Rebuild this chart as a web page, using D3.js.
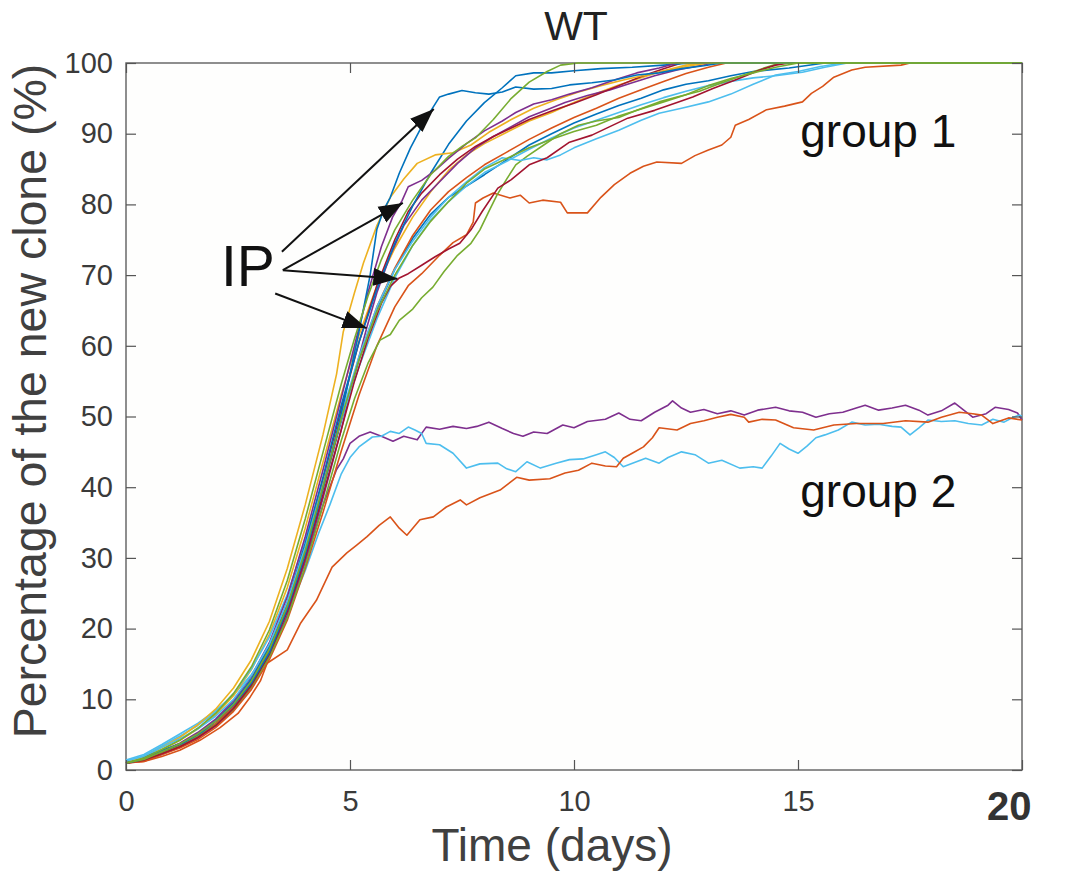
<!DOCTYPE html>
<html>
<head>
<meta charset="utf-8">
<script src="https://d3js.org/d3.v7.min.js"></script>
<style>
    body { margin: 0; background: #fff; }
    .axis text { font-family: "Liberation Sans", Arial, sans-serif; font-size: 29px; fill: #3a3a3a; }
    .axis path { display: none; }
    .axis line { stroke: #555; stroke-width: 1.2px; }
    .lbl { font-family: "Liberation Sans", Arial, sans-serif; }
</style>
</head>
<body>
<script>
// --- data: [day, percent] ---
let blueA = [[0,1],[0.3,1.4],[0.6,2.3],[1,3.2],[1.3,3.9],[1.7,5.4],[2,6.9],[2.4,9.2],[2.8,12.3],[3.2,16.6],[3.6,22.8],[4,30.5],[4.3,37.5],[4.6,45],[4.9,53],[5.2,62],[5.45,70],[5.6,76.5],[5.75,79.2],[5.9,81],[6.1,84.4],[6.35,88],[6.6,91],[6.8,93.2],[7,95.2],[7.2,95.6],[7.5,96.1],[7.8,95.8],[8.1,95.6],[8.4,95.9],[8.7,96.6],[9.1,96.3],[9.5,96.4],[9.9,96.9],[10.4,97.2],[10.9,97.6],[11.4,98.3],[11.9,98.6],[12.4,99.2],[12.9,99.6],[13.3,100],[20,100]];
let orangeA = [[0,1],[0.4,1.2],[0.8,2.2],[1.2,3.1],[1.6,4.3],[2,6],[2.4,8.3],[2.8,11.4],[3.2,15.6],[3.6,21.2],[4,28.5],[4.4,36.5],[4.8,45],[5.2,53],[5.6,60],[6,65.5],[6.3,68.5],[6.6,70.2],[7,72.8],[7.3,74.6],[7.6,75.7],[7.75,77.5],[7.8,80.2],[7.97,80.9],[8.2,81.6],[8.57,80.9],[8.8,81.3],[9,80.2],[9.3,80.6],[9.7,80.3],[9.85,78.8],[10.3,78.8],[10.6,81],[10.9,82.8],[11.25,84.4],[11.55,85.4],[11.85,86],[12.4,85.8],[12.7,86.9],[13,87.7],[13.3,88.4],[13.5,89.5],[13.6,91.2],[13.9,92],[14.3,93.4],[14.7,93.9],[15.1,94.5],[15.3,95.7],[15.55,96.7],[15.8,98],[16.2,99],[16.5,99.4],[17.3,99.7],[17.5,100],[20,100]];
let greenA = [[0,1],[0.4,1.5],[0.8,2.4],[1.2,3.4],[1.6,4.8],[2,6.4],[2.4,8.6],[2.8,11.8],[3.2,16],[3.6,21.5],[4,28.8],[4.4,37.5],[4.8,46.5],[5.1,52.5],[5.4,57.5],[5.67,60.8],[5.9,61.6],[6.1,63.6],[6.4,65.2],[6.6,66.8],[6.85,68.3],[7.1,70.5],[7.4,72.8],[7.7,74.5],[7.9,76.4],[8.1,79],[8.28,81.3],[8.5,83.6],[8.7,85.6],[8.95,86.8],[9.3,88.3],[9.7,90],[10.1,91.2],[10.5,91.8],[11,92.3],[11.4,93.3],[11.9,94.5],[12.3,95.2],[12.8,96],[13.3,97.2],[13.8,98.3],[14.2,99.2],[14.6,100],[20,100]];
let darkRedA = [[0,1],[0.4,1.4],[0.8,2.3],[1.2,3.3],[1.6,4.6],[2,6.3],[2.4,8.7],[2.8,12],[3.2,16.4],[3.6,22.4],[4,30],[4.4,39],[4.8,48],[5.1,55],[5.4,61],[5.7,66],[5.9,68.4],[6.1,69.6],[6.3,70.2],[6.6,71.4],[6.9,72.6],[7.2,73.7],[7.45,74.5],[7.7,76.4],[7.95,79],[8.3,82.3],[8.6,83.5],[9,85.6],[9.4,86.6],[9.9,88.8],[10.4,89.8],[10.8,91],[11.2,92.2],[11.8,93.3],[12.3,94.4],[12.65,95.2],[13.1,96.4],[13.6,97.6],[14.15,99],[14.5,99.7],[14.8,100],[20,100]];
let lightBlueA = [[0,1.3],[0.4,1.9],[0.8,3.2],[1.2,4.4],[1.6,5.8],[2,7.6],[2.4,10],[2.8,13.4],[3.2,17.8],[3.6,23.8],[4,31.5],[4.4,40.5],[4.8,50],[5.2,58.5],[5.6,65.5],[6,70.8],[6.4,74.8],[6.8,78.2],[7.2,81],[7.6,83.2],[8,85.2],[8.4,86.6],[8.8,86.2],[9.1,86.6],[9.4,86.3],[9.7,87],[10,88],[10.5,89.3],[11,90.5],[11.5,91.9],[11.9,92.9],[12.4,93.6],[13,94.5],[13.5,95.6],[14,97],[14.5,98.3],[15,98.8],[15.5,99.5],[16,100],[20,100]];
let purpleA = [[0,1],[0.4,1.6],[0.8,2.7],[1.2,3.8],[1.6,5.3],[2,7.2],[2.4,9.8],[2.8,13.3],[3.2,18],[3.6,24.5],[4,33],[4.4,42.5],[4.8,52.5],[5.1,60],[5.4,67.5],[5.7,74],[5.95,78.2],[6.16,80.5],[6.3,82.5],[6.6,83.4],[6.9,84.8],[7.2,86.5],[7.6,88.6],[8,90.4],[8.4,91.8],[8.7,93],[9.1,94.2],[9.5,94.8],[9.9,95.6],[10.4,96.5],[10.9,97.6],[11.4,98.6],[11.9,99.3],[12.3,100],[20,100]];
let yellowA = [[0,1],[0.4,1.8],[0.8,3.2],[1.2,4.6],[1.6,6.4],[2,8.6],[2.4,11.6],[2.8,15.6],[3.2,21],[3.6,28.5],[4,37.5],[4.4,47.5],[4.7,56],[4.85,62],[5.1,67.5],[5.3,71.7],[5.6,77],[5.9,81],[6.2,83.6],[6.5,85.8],[6.9,87],[7.3,87.3],[7.7,88.4],[8.1,90.2],[8.6,92],[9.1,93.6],[9.6,94.8],[10.1,95.9],[10.6,96.8],[11.1,97.6],[11.6,98.3],[12.1,99],[12.6,99.6],[13,100],[20,100]];
let greenB = [[0,1],[0.4,1.7],[0.8,2.9],[1.2,4.2],[1.6,5.9],[2,8],[2.4,10.8],[2.8,14.6],[3.2,19.8],[3.6,26.8],[4,35.5],[4.4,45],[4.8,54.5],[5.1,61],[5.4,67],[5.7,72.2],[6,76.4],[6.4,80.6],[6.8,84.2],[7.2,86.8],[7.5,88.2],[7.8,89.4],[8.2,92],[8.6,95],[9,97.3],[9.4,98.8],[9.7,99.7],[10.1,100],[20,100]];
let blueB = [[0,1],[0.4,1.5],[0.8,2.6],[1.2,3.7],[1.6,5.1],[2,7],[2.4,9.5],[2.8,12.9],[3.2,17.5],[3.6,23.8],[4,32],[4.4,41.5],[4.8,51.5],[5.2,60.5],[5.6,68],[6,74.5],[6.4,79.8],[6.8,84.4],[7.2,88.5],[7.6,91.8],[8,94.4],[8.4,96.5],[8.7,98.2],[9.1,98.6],[9.5,98.6],[10,98.9],[10.6,99.2],[11.3,99.4],[12,99.7],[12.6,100],[20,100]];
let orangeB = [[0,1],[0.4,1.4],[0.8,2.4],[1.2,3.5],[1.6,4.8],[2,6.6],[2.4,9],[2.8,12.3],[3.2,16.8],[3.6,22.9],[4,30.8],[4.4,40],[4.8,49.5],[5.2,58.2],[5.6,65.5],[6,71],[6.4,75.6],[6.8,79.2],[7.2,81.8],[7.6,83.8],[8,85.6],[8.5,87.4],[9,89.2],[9.5,90.8],[10,92.3],[10.5,93.6],[11,95],[11.5,96.2],[12,97.4],[12.5,98.5],[13,99.4],[13.4,100],[20,100]];
let purpleB = [[0,1],[0.4,1.3],[0.8,2.2],[1.2,3.2],[1.6,4.5],[2,6.2],[2.4,8.5],[2.8,11.7],[3.2,16],[3.6,21.8],[4,29.5],[4.4,38.5],[4.8,48],[5.1,56],[5.38,62.7],[5.6,67.5],[5.9,72.8],[6.2,77],[6.6,80.6],[7,83.2],[7.4,85.8],[7.8,88],[8.2,89.6],[8.6,91],[9,92.4],[9.4,93.4],[9.8,94.4],[10.3,95.4],[10.8,96.2],[11.3,97.2],[11.8,98.2],[12.3,99],[12.8,99.6],[13.1,100],[20,100]];
let darkRedB = [[0,1],[0.4,1.5],[0.8,2.5],[1.2,3.6],[1.6,5],[2,6.9],[2.4,9.4],[2.8,12.8],[3.2,17.4],[3.6,23.6],[4,31.6],[4.4,41],[4.8,51],[5.2,60.5],[5.6,68.5],[6,75],[6.3,79],[6.6,81.6],[7,84.2],[7.4,86.4],[7.8,88.2],[8.2,89.6],[8.6,90.8],[9,92],[9.5,93.2],[10,94.3],[10.5,95.5],[11,96.8],[11.5,98.1],[12,99.2],[12.4,100],[20,100]];
let lightBlueB = [[0,1.2],[0.4,2],[0.8,3.4],[1.2,4.8],[1.6,6.3],[2,8.2],[2.4,10.8],[2.8,14.3],[3.2,18.8],[3.6,24.8],[4,32.5],[4.4,41],[4.8,49.5],[5.2,57],[5.6,63.8],[6,69.6],[6.4,74.2],[6.8,77.8],[7.2,80.4],[7.6,82.6],[8,84.5],[8.5,86.1],[9,87.8],[9.5,89.4],[10,90.8],[10.5,91.9],[11,93],[11.5,94.1],[12,95.1],[12.5,96],[13,96.8],[13.5,97.4],[14,97.9],[14.5,98.2],[15.1,98.7],[15.6,99.4],[16.1,100],[20,100]];
let blueC = [[0,1],[0.4,1.4],[0.8,2.4],[1.2,3.4],[1.6,4.7],[2,6.5],[2.4,8.9],[2.8,12.2],[3.2,16.7],[3.6,22.8],[4,30.6],[4.4,39.8],[4.8,49.2],[5.2,58],[5.6,65.2],[6,70.8],[6.4,75.2],[6.8,78.6],[7.2,81],[7.6,82.6],[8,84.2],[8.5,86.3],[9,88.4],[9.5,90],[10,91.5],[10.5,92.8],[11,94],[11.5,95],[12,96.2],[12.5,97],[13,97.5],[13.5,98.2],[14,98.8],[14.8,99.3],[15.6,100],[20,100]];
let yellowB = [[0,1],[0.4,1.6],[0.8,2.9],[1.2,4.2],[1.6,5.8],[2,7.8],[2.4,10.5],[2.8,14.2],[3.2,19.2],[3.6,25.8],[4,34.2],[4.4,43.6],[4.8,53],[5.2,61.5],[5.6,68.5],[6,73.8],[6.4,78.2],[6.8,81.8],[7.2,84.8],[7.6,87],[8,88.6],[8.5,90.2],[9,91.8],[9.5,93],[10,94.4],[10.5,95.7],[11,96.9],[11.5,97.9],[12,98.9],[12.5,99.7],[12.9,100],[20,100]];
let greenC = [[0,1],[0.4,1.5],[0.8,2.6],[1.2,3.7],[1.6,5.1],[2,6.9],[2.4,9.3],[2.8,12.6],[3.2,17.1],[3.6,23.2],[4,31],[4.4,40.2],[4.8,49.6],[5.2,58],[5.6,64.8],[6,70],[6.4,74.2],[6.8,77.6],[7.2,80.4],[7.6,83],[8,85],[8.5,86.5],[9,88],[9.5,89.2],[10,90.3],[10.5,91.2],[11,92.5],[11.5,93.5],[12,94.5],[12.5,95.5],[13,96.8],[13.5,97.8],[14,98.6],[14.5,99.4],[15,100],[20,100]];

// group 2
let purpleG2 = [[0,1],[0.4,1.3],[0.8,2.3],[1.2,3.3],[1.6,4.6],[2,6.3],[2.4,8.6],[2.8,11.8],[3.2,16.2],[3.6,22],[4,29.5],[4.4,37.5],[4.7,42.5],[4.85,44],[5,46.2],[5.2,47.2],[5.45,47.8],[5.7,47.2],[5.96,46.5],[6.2,47.2],[6.5,46.7],[6.7,48.5],[7,48.2],[7.3,48.6],[7.6,48.3],[7.83,48.6],[8.1,49.2],[8.4,48.3],[8.65,47.6],[8.86,47.2],[9.1,47.8],[9.4,47.6],[9.75,48.8],[10,48.4],[10.3,49.3],[10.7,49.6],[11,50.5],[11.25,49.6],[11.5,49.4],[11.8,50.6],[12.1,51.6],[12.2,52.2],[12.4,51.2],[12.6,50.6],[12.9,51],[13.2,50.4],[13.5,50.8],[13.8,50.2],[14.1,50.9],[14.5,51.3],[14.8,50.8],[15.1,50.6],[15.4,49.9],[15.7,50.4],[16,50.6],[16.3,51.2],[16.5,51.6],[16.8,50.9],[17.1,51.2],[17.4,51.6],[17.7,50.9],[17.9,50.2],[18.2,50.8],[18.5,51.9],[18.7,50.9],[18.9,49.9],[19.2,50.4],[19.4,51.3],[19.7,51],[19.9,50.5],[20,49.5]];
let lightBlueG2 = [[0,1.4],[0.4,2.2],[0.8,3.6],[1.2,5.1],[1.6,6.6],[2,8.4],[2.4,10.6],[2.8,13.5],[3.2,17.2],[3.6,22],[4,28.2],[4.3,33.5],[4.55,37.5],[4.8,41.8],[5,44.2],[5.2,45.7],[5.5,47.1],[5.7,47.2],[5.9,47.9],[6.1,47.6],[6.3,48.5],[6.45,48.1],[6.6,47.6],[6.7,46.2],[7,46],[7.3,44.8],[7.6,42.7],[7.9,43.3],[8.3,43.4],[8.5,42.6],[8.7,42.2],[8.95,43.6],[9.25,42.7],[9.6,43.4],[9.9,43.9],[10.2,44],[10.5,44.6],[10.7,45],[10.9,44.2],[11.1,42.9],[11.35,43.5],[11.6,44.1],[11.9,43.4],[12.1,44.2],[12.4,45],[12.7,44.6],[13,43.4],[13.3,43.8],[13.7,42.7],[14,42.9],[14.2,42.7],[14.4,44.4],[14.6,46.2],[14.8,45.4],[15,44.8],[15.2,45.8],[15.4,47],[15.6,47.4],[15.9,48.1],[16.2,49.2],[16.5,48.8],[16.8,48.9],[17.1,48.6],[17.3,48.5],[17.5,47.4],[17.7,48.4],[17.9,49.5],[18.2,49.3],[18.5,49.4],[18.8,49],[19.1,48.8],[19.35,49.6],[19.6,49.2],[19.8,49.9],[19.95,50.2],[20,50]];
let orangeG2 = [[0,1],[0.4,1.2],[0.8,1.9],[1.2,2.8],[1.65,4.2],[2.1,6],[2.5,8],[2.77,10.3],[3,12.6],[3.15,15.1],[3.6,17],[3.9,20.8],[4.25,24],[4.6,28.7],[4.93,30.7],[5.15,31.8],[5.38,33],[5.65,34.6],[5.9,35.8],[6.1,34.2],[6.27,33.2],[6.56,35.4],[6.86,35.8],[7.15,37.2],[7.46,38.2],[7.6,37.5],[7.9,38.5],[8.35,39.6],[8.72,41.4],[9,41],[9.46,41.2],[9.8,42],[10.1,42.4],[10.4,43.4],[10.7,43],[10.95,42.9],[11.1,44.1],[11.3,44.8],[11.55,45.7],[11.75,47],[11.9,48.4],[12.3,48.1],[12.6,49],[12.9,49.4],[13.2,49.9],[13.5,50.3],[13.8,49.9],[13.9,49.2],[14.2,49.6],[14.5,49.5],[14.9,48.4],[15.35,48.1],[15.8,48.8],[16.3,49],[16.9,49],[17.4,49.4],[17.9,49.2],[18.2,49.9],[18.6,50.6],[18.9,50.4],[19.1,50.2],[19.35,49],[19.7,49.8],[20,49.5]];

let xTicks = [0, 5, 10, 15, 20];
let yTicks = [0, 10, 20, 30, 40, 50, 60, 70, 80, 90, 100];

// arrows from the "IP" label, [from, to] in data units
let arrows = [
    [[3.48, 73.3], [6.87, 93.5]],
    [[3.5, 70.7], [6.18, 80.2]],
    [[3.5, 70.7], [6.06, 69.5]],
    [[3.33, 67.4], [5.37, 62.5]]
];

// matlab default colours
let blue = "#0072BD", orange = "#D95319", yellow = "#EDB120", purple = "#7E2F8E",
    green = "#77AC30", lblue = "#4DBEEE", dred = "#A2142F";

let lines = [
    [purpleG2, purple], [lightBlueG2, lblue], [orangeG2, orange],
    [blueC, blue], [orangeB, orange], [yellowB, yellow], [purpleB, purple], [lightBlueB, lblue], [darkRedB, dred],
    [blueB, blue], [orangeA, orange], [yellowA, yellow], [purpleA, purple], [greenA, green], [lightBlueA, lblue],
    [darkRedA, dred], [blueA, blue], [greenB, green], [greenC, green]
];

let W = 1065, H = 879;
let mLeft = 126, mRight = 1022, mTop = 63, mBottom = 770;

let svg = d3.select("body").append("svg")
    .attr("width", W)
    .attr("height", H);

svg.append("defs").append("marker")
    .attr("id", "head")
    .attr("markerUnits", "userSpaceOnUse")
    .attr("viewBox", "0 -10 24 20")
    .attr("refX", 24).attr("refY", 0)
    .attr("markerWidth", 24).attr("markerHeight", 20)
    .attr("orient", "auto")
    .append("path")
    .attr("d", "M0,-9L24,0L0,9Z")
    .attr("fill", "#111");

let x = d3.scaleLinear().domain([0, 20]).range([mLeft, mRight]);
let y = d3.scaleLinear().domain([0, 100]).range([mBottom, mTop]);

// box
svg.append("rect")
    .attr("x", mLeft).attr("y", mTop)
    .attr("width", mRight - mLeft).attr("height", mBottom - mTop)
    .attr("fill", "#fefefd")
    .attr("stroke", "#6a6a6a")
    .attr("stroke-width", 1.5);

let line = d3.line().x(d => x(d[0])).y(d => y(d[1]));

svg.append("g").selectAll("path")
    .data(lines)
    .join("path")
    .attr("d", d => line(d[0]))
    .attr("fill", "none")
    .attr("stroke", d => d[1])
    .attr("stroke-width", 1.6)
    .attr("stroke-linejoin", "round");

// axes, ticks pointing in like matlab
let xAxisG = svg.append("g").attr("class", "axis")
    .attr("transform", "translate(0," + mBottom + ")")
    .call(d3.axisBottom(x).tickValues(xTicks).tickSizeInner(-10).tickSizeOuter(0).tickPadding(20));
svg.append("g").attr("class", "axis")
    .attr("transform", "translate(0," + mTop + ")")
    .call(d3.axisTop(x).tickValues(xTicks).tickSizeInner(-10).tickSizeOuter(0).tickFormat(""));
svg.append("g").attr("class", "axis")
    .attr("transform", "translate(" + mLeft + ",0)")
    .call(d3.axisLeft(y).tickValues(yTicks).tickSizeInner(-10).tickSizeOuter(0).tickPadding(13));
svg.append("g").attr("class", "axis")
    .attr("transform", "translate(" + mRight + ",0)")
    .call(d3.axisRight(y).tickValues(yTicks).tickSizeInner(-10).tickSizeOuter(0).tickFormat(""));

// the last x label is bold and bigger in the original
xAxisG.selectAll(".tick text")
    .filter(d => d === 20)
    .style("font-weight", "bold")
    .style("font-size", "40px")
    .style("fill", "#333")
    .attr("text-anchor", "end")
    .attr("x", 9)
    .attr("y", 14)
    .attr("dy", "0.9em");

svg.append("text").attr("class", "lbl")
    .text("WT")
    .attr("x", 576).attr("y", 40)
    .attr("text-anchor", "middle")
    .style("font-size", "41px").style("fill", "#222");

svg.append("text").attr("class", "lbl")
    .text("Time (days)")
    .attr("x", 552).attr("y", 861)
    .attr("text-anchor", "middle")
    .style("font-size", "46px").style("fill", "#404040");

svg.append("text").attr("class", "lbl")
    .text("Percentage of the new clone (%)")
    .attr("transform", "translate(46," + 401 + ") rotate(-90)")
    .attr("text-anchor", "middle")
    .style("font-size", "46.5px").style("fill", "#404040");

svg.append("text").attr("class", "lbl")
    .text("group 1")
    .attr("x", x(15.05)).attr("y", y(88.1))
    .style("font-size", "46px").style("fill", "#111");

svg.append("text").attr("class", "lbl")
    .text("group 2")
    .attr("x", x(15.05)).attr("y", y(37.2))
    .style("font-size", "46px").style("fill", "#111");

svg.append("text").attr("class", "lbl")
    .text("IP")
    .attr("x", x(2.12)).attr("y", y(68.4))
    .style("font-size", "57px").style("fill", "#111");

svg.append("g").selectAll("line")
    .data(arrows)
    .join("line")
    .attr("x1", d => x(d[0][0])).attr("y1", d => y(d[0][1]))
    .attr("x2", d => x(d[1][0])).attr("y2", d => y(d[1][1]))
    .attr("stroke", "#111")
    .attr("stroke-width", 2)
    .attr("marker-end", "url(#head)");
</script>
</body>
</html>
